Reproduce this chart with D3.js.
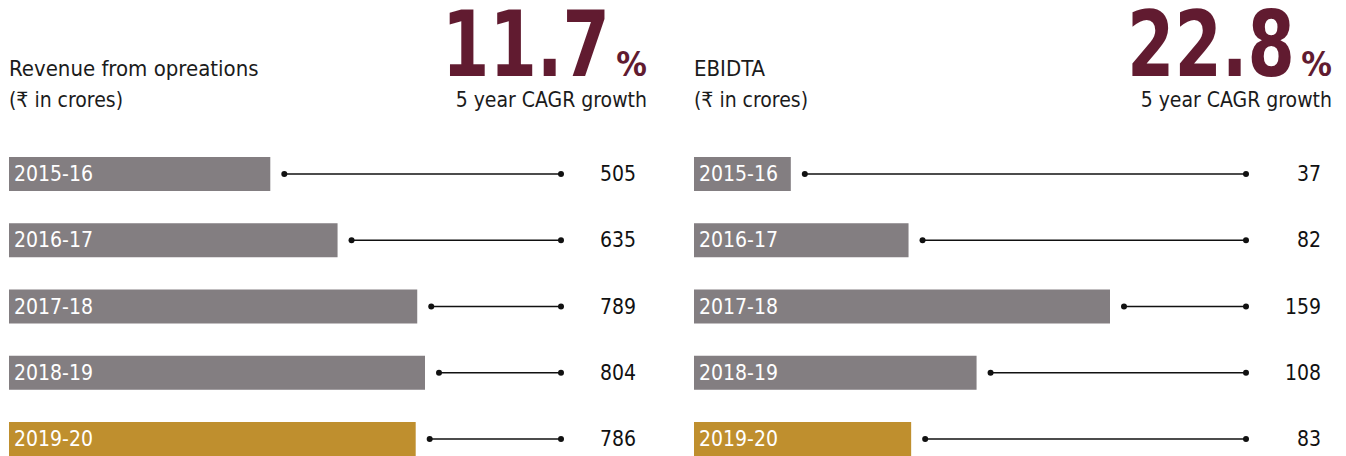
<!DOCTYPE html>
<html>
<head>
<meta charset="utf-8">
<script src="https://cdn.jsdelivr.net/npm/d3@7"></script>
<style>
  body { margin: 0; background: #fff; }
  svg { display: block; }
</style>
</head>
<body>
<script>
// chart data
const years = ["2015-16", "2016-17", "2017-18", "2018-19", "2019-20"];
const revenue = [505, 635, 789, 804, 786];
const ebidta = [37, 82, 159, 108, 83];
const titles = ["Revenue from opreations", "EBIDTA"];
const cagr = ["11.7", "22.8"];

const width = 1346, height = 456;
const narrow = "'Liberation Sans Narrow', 'DejaVu Sans Condensed', sans-serif";

const svg = d3.select("body").append("svg")
  .attr("width", width)
  .attr("height", height);

// row centres
const y = d3.scalePoint().domain(years).range([174, 439]);
const barH = 34;

function panel(offset, title, growth, values) {
  const g = svg.append("g").attr("transform", "translate(" + offset + ",0)");

  const x = d3.scaleLinear()
    .domain([0, d3.max(values)])
    .range([9, 425]);

  // heading
  g.append("text")
    .attr("x", 9).attr("y", 76)
    .style("font-family", narrow)
    .style("font-size", "22px")
    .attr("fill", "#1b1b1b")
    .text(title);

  g.append("text")
    .attr("x", 9).attr("y", 107)
    .style("font-family", narrow)
    .style("font-size", "21px")
    .attr("fill", "#1b1b1b")
    .text("(₹ in crores)");

  // big CAGR figure, squeezed to the condensed look of the original
  g.append("text")
    .attr("x", 442).attr("y", 76)
    .attr("textLength", 168)
    .attr("lengthAdjust", "spacingAndGlyphs")
    .attr("fill", "#611b30")
    .style("font-family", narrow)
    .style("font-weight", "bold")
    .style("font-size", "90px")
    .text(growth);

  g.append("text")
    .attr("x", 647).attr("y", 76)
    .attr("text-anchor", "end")
    .attr("fill", "#611b30")
    .style("font-family", narrow)
    .style("font-weight", "bold")
    .style("font-size", "34px")
    .text("%");

  g.append("text")
    .attr("x", 647).attr("y", 107)
    .attr("text-anchor", "end")
    .style("font-family", narrow)
    .style("font-size", "21px")
    .attr("fill", "#1b1b1b")
    .text("5 year CAGR growth");

  const rows = g.selectAll(".row")
    .data(years.map((yr, i) => ({ year: yr, value: values[i], last: i === years.length - 1 })))
    .enter().append("g")
    .attr("class", "row");

  rows.append("rect")
    .attr("x", x(0))
    .attr("y", d => y(d.year) - barH / 2)
    .attr("width", d => x(d.value) - x(0))
    .attr("height", barH)
    .attr("fill", d => d.last ? "#bf8f2e" : "#837e81");

  rows.append("text")
    .attr("x", x(0) + 5)
    .attr("y", d => y(d.year) + 7)
    .style("font-family", narrow)
    .style("font-size", "21px")
    .attr("fill", "#fff")
    .text(d => d.year);

  // connector line with end dots
  rows.append("line")
    .attr("x1", d => x(d.value) + 14)
    .attr("x2", 561)
    .attr("y1", d => y(d.year))
    .attr("y2", d => y(d.year))
    .attr("stroke", "#111")
    .attr("stroke-width", 1.5);

  rows.append("circle")
    .attr("cx", d => x(d.value) + 14)
    .attr("cy", d => y(d.year))
    .attr("r", 3)
    .attr("fill", "#111");

  rows.append("circle")
    .attr("cx", 561)
    .attr("cy", d => y(d.year))
    .attr("r", 3)
    .attr("fill", "#111");

  rows.append("text")
    .attr("x", 636)
    .attr("y", d => y(d.year) + 7)
    .attr("text-anchor", "end")
    .style("font-family", narrow)
    .style("font-size", "21px")
    .attr("fill", "#111")
    .text(d => d.value);
}

panel(0, titles[0], cagr[0], revenue);
panel(685, titles[1], cagr[1], ebidta);
</script>
</body>
</html>
